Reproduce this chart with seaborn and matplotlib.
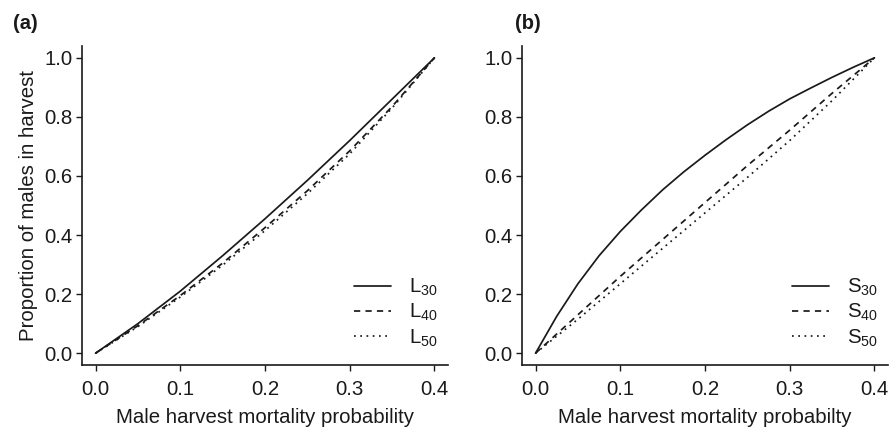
import matplotlib
matplotlib.use("Agg")
import matplotlib.pyplot as plt
import seaborn as sns

sns.set_style("white")
plt.rcParams['font.family'] = ['Liberation Sans', 'DejaVu Sans']
plt.rcParams['mathtext.fontset'] = 'custom'
plt.rcParams['mathtext.rm'] = 'Liberation Sans'
plt.rcParams['mathtext.it'] = 'Liberation Sans'

# ---- data ----
mortality = [0.0, 0.05, 0.10, 0.15, 0.20, 0.25, 0.30, 0.35, 0.40]
mortality_fine = [0.0, 0.025, 0.05, 0.075, 0.10, 0.125, 0.15, 0.175, 0.20,
                  0.225, 0.25, 0.275, 0.30, 0.325, 0.35, 0.375, 0.40]

L30 = [0.0, 0.100, 0.210, 0.330, 0.455, 0.585, 0.720, 0.860, 1.0]
L40 = [0.0, 0.093, 0.195, 0.305, 0.425, 0.550, 0.685, 0.835, 1.0]
L50 = [0.0, 0.090, 0.190, 0.298, 0.415, 0.540, 0.675, 0.830, 1.0]

S30 = [0.0, 0.125, 0.235, 0.330, 0.412, 0.485, 0.553, 0.614, 0.670,
       0.723, 0.773, 0.819, 0.861, 0.898, 0.934, 0.968, 1.0]
S40 = [0.0, 0.130, 0.260, 0.385, 0.510, 0.635, 0.755, 0.880, 1.0]
S50 = [0.0, 0.115, 0.235, 0.355, 0.475, 0.595, 0.720, 0.855, 1.0]

panel_a_labels = [r'L$\mathregular{_{30}}$', r'L$\mathregular{_{40}}$', r'L$\mathregular{_{50}}$']
panel_b_labels = [r'S$\mathregular{_{30}}$', r'S$\mathregular{_{40}}$', r'S$\mathregular{_{50}}$']

x_ticks = [0.0, 0.1, 0.2, 0.3, 0.4]
y_ticks = [0.0, 0.2, 0.4, 0.6, 0.8, 1.0]

# ---- figure ----
fig = plt.figure(figsize=(8.9, 4.34), dpi=100)
ax_a = fig.add_axes([82 / 890, 1 - 365 / 434, 366 / 890, 319 / 434])
ax_b = fig.add_axes([522 / 890, 1 - 365 / 434, 366 / 890, 319 / 434])

styles = [dict(linestyle='-'),
          dict(linestyle=(0, (3.6, 3.0))),
          dict(linestyle=(0, (1.0, 2.6)))]

ink = '#1a1a1a'
FS = 14.7

def draw(ax, xs_list, series, labels, xlabel, ylabel, tag, tag_x):
    for xs, vals, lab, st in zip(xs_list, series, labels, styles):
        sns.lineplot(x=xs, y=vals, ax=ax, color=ink, lw=1.25,
                     label=lab, **st)
    ax.set_xlim(-0.016, 0.416)
    ax.set_ylim(-0.04, 1.04)
    ax.set_xticks(x_ticks)
    ax.set_xticklabels([f"{t:.1f}" for t in x_ticks])
    ax.set_yticks(y_ticks)
    ax.set_yticklabels([f"{t:.1f}" for t in y_ticks])
    for s in ['top', 'right']:
        ax.spines[s].set_visible(False)
    for s in ['left', 'bottom']:
        ax.spines[s].set_color(ink)
        ax.spines[s].set_linewidth(1.2)
    ax.tick_params(axis='both', which='major', direction='out', length=4,
                   width=1.0, color=ink, labelsize=FS, labelcolor=ink, pad=3,
                   left=True, bottom=True)
    ax.tick_params(axis='x', pad=7)
    ax.set_xlabel(xlabel, fontsize=FS, color=ink, labelpad=6)
    ax.set_ylabel(ylabel, fontsize=FS, color=ink, labelpad=4)
    leg = ax.legend(loc='lower right', frameon=False, fontsize=FS,
                    handlelength=1.8, handletextpad=0.9, labelspacing=0.2,
                    borderaxespad=0.0, bbox_to_anchor=(0.995, 0.025))
    for t in leg.get_texts():
        t.set_color(ink)
    ax.text(tag_x, 1.072, tag, transform=ax.transAxes,
            fontsize=14.5, fontweight='bold', color=ink, ha='left', va='center')

draw(ax_a, [mortality] * 3, [L30, L40, L50], panel_a_labels,
     'Male harvest mortality probability', 'Proportion of males in harvest',
     '(a)', -0.189)
draw(ax_b, [mortality_fine, mortality, mortality], [S30, S40, S50], panel_b_labels,
     'Male harvest mortality probabilty', '', '(b)', -0.019)

fig.savefig('out.png', dpi=100)
